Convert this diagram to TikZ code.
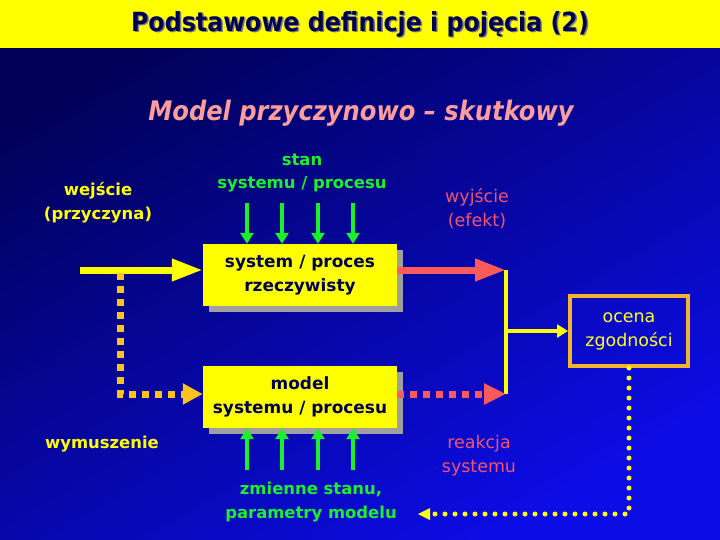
\documentclass[tikz,border=0pt]{standalone}
\usepackage{fontspec}
\setmainfont{DejaVu Sans}
\newfontfamily\titlefont{DejaVu Sans Condensed}
\usetikzlibrary{arrows.meta, shadows}
\definecolor{bgtop}{HTML}{000058}
\definecolor{bgbottom}{HTML}{0C0CE6}
\definecolor{bandyellow}{HTML}{FFFF00}
\definecolor{inkblue}{HTML}{000050}
\definecolor{stategreen}{HTML}{1AF02C}
\definecolor{effectred}{HTML}{FF5A5A}
\definecolor{labelred}{HTML}{F25470}
\definecolor{headpink}{HTML}{FF9C9C}
\definecolor{forceorange}{HTML}{FFC21E}
\definecolor{framegold}{HTML}{F2B42C}

\tikzset{
  blockbox/.style={fill=bandyellow, minimum width=194bp, minimum height=62bp, align=center,
    text=inkblue, font=\bfseries\fontsize{17}{24}\selectfont,
    drop shadow={shadow xshift=6bp, shadow yshift=-6bp, fill=gray!75, opacity=1}},
  label/.style={align=center, font=\bfseries\fontsize{16.5}{24}\selectfont},
  plainlabel/.style={align=center, font=\fontsize{17.5}{24}\selectfont},
  bigarrow/.style={line width=7bp, -{Triangle[length=31bp, width=21bp]}},
  greenarrow/.style={stategreen, line width=4bp, -{Triangle[length=11bp, width=13bp]}},
  squaredots/.style={line width=7bp, dash pattern=on 7bp off 6bp},
  rounddots/.style={bandyellow, line width=5bp, line cap=round, dash pattern=on 0bp off 10bp}
}

\begin{document}
\begin{tikzpicture}[x=1bp, y=-1bp]
  \useasboundingbox (0,0) rectangle (720,540);

  % --- background and title band ---
  \shade[top color=bgtop, bottom color=bgbottom, shading angle=30] (0,0) rectangle (720,540);
  \fill[bandyellow] (0,0) rectangle (720,48);
  \node[text=gray, font=\titlefont\bfseries\fontsize{26.5}{30}\selectfont] at (361.5,25.5) {Podstawowe definicje i pojęcia (2)};
  \node[text=inkblue, font=\titlefont\bfseries\fontsize{26.5}{30}\selectfont] (title) at (360,24) {Podstawowe definicje i pojęcia (2)};
  \node[text=headpink, font=\titlefont\bfseries\itshape\fontsize{27}{30}\selectfont] (subtitle) at (361,113) {Model przyczynowo – skutkowy};

  % --- blocks ---
  \node[blockbox] (real) at (300,275) {system / proces\\rzeczywisty};
  \node[blockbox] (model) at (300,397) {model\\systemu / procesu};
  \node[draw=framegold, line width=4bp, minimum width=118bp, minimum height=70bp, align=center,
        text=bandyellow!85!white, font=\fontsize{17.5}{24}\selectfont] (ocena) at (629,331) {ocena\\zgodności};

  % --- labels ---
  \node[label, text=bandyellow] (wejscie) at (98,203) {wejście\\(przyczyna)};
  \node[label, text=stategreen] (stan) at (302,173) {stan\\systemu / procesu};
  \node[plainlabel, text=labelred] (wyjscie) at (477,209) {wyjście\\(efekt)};
  \node[label, text=bandyellow] (wymuszenie) at (102,444) {wymuszenie};
  \node[plainlabel, text=labelred] (reakcja) at (479,456) {reakcja\\systemu};
  \node[label, text=stategreen] (zmienne) at (311,502) {zmienne stanu,\\parametry modelu};

  % --- real path ---
  \coordinate (inStart) at (80,270);
  \coordinate (outEnd) at (506,270);
  \coordinate (respEnd) at (506,394);
  \coordinate (forceTop) at (120,273);
  \draw[bigarrow, bandyellow] (inStart) -- (inStart -| real.west);
  \draw[bigarrow, effectred] (real.east |- outEnd) -- (outEnd);
  \draw[bandyellow, line width=4bp] (outEnd) -- (respEnd);
  \draw[bandyellow, line width=4bp, -{Triangle[length=11bp, width=13bp]}] (outEnd |- ocena.west) -- (ocena.west);

  % --- model path ---
  \draw[squaredots, forceorange, -{Triangle[length=20bp, width=20bp]}] (forceTop) |- (model.west |- respEnd);
  \draw[squaredots, effectred, -{Triangle[length=22bp, width=20bp]}] (model.east |- respEnd) -- (respEnd);

  % --- state and parameters ---
  \foreach \x in {247,282,318,353} {
    \draw[greenarrow] (\x,203) -- (real.north -| \x,0);
    \draw[greenarrow] (\x,470) -- (model.south -| \x,0);
  }

  % --- feedback ---
  \coordinate (fbEnd) at (418,514);
  \draw[rounddots] (ocena.south) |- (fbEnd);
  \fill[bandyellow] (fbEnd) -- ++(12,-6) -- ++(0,12) -- cycle;
\end{tikzpicture}
\end{document}
